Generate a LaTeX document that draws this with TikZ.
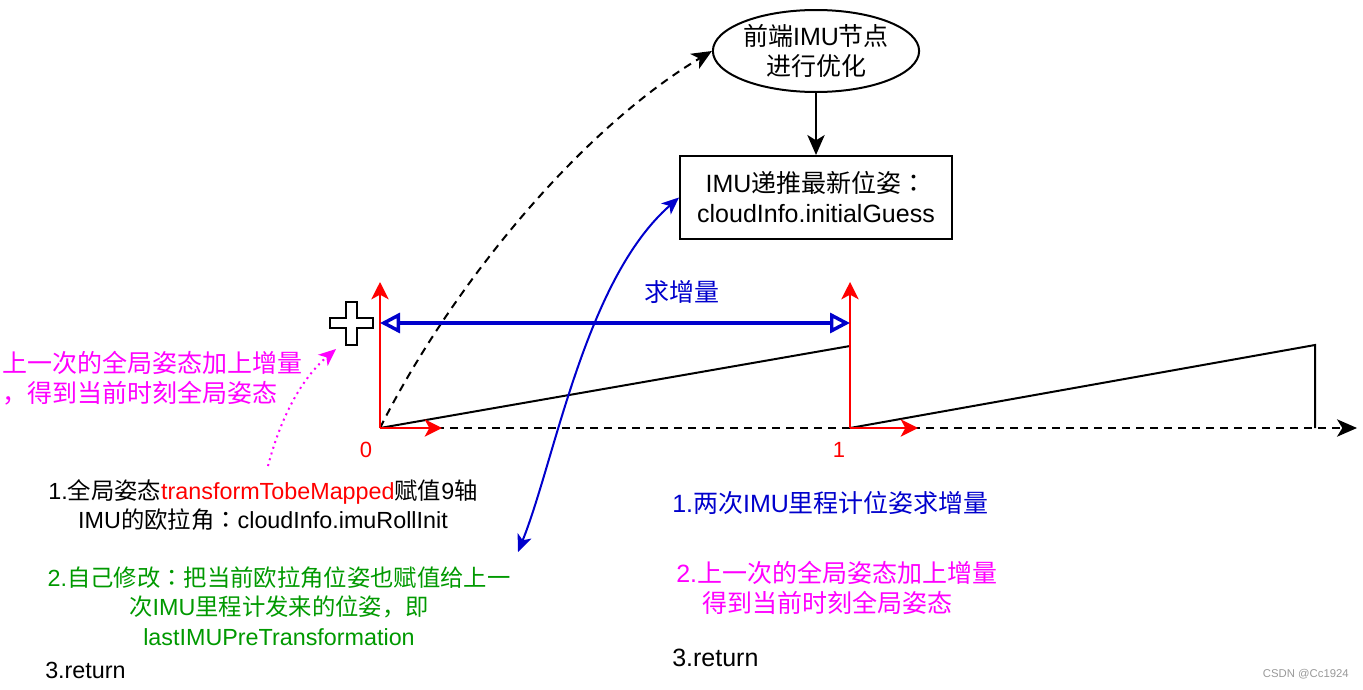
\documentclass[tikz,border=0pt]{standalone}
\usepackage{fontspec}
\setmainfont{Liberation Sans}
\newfontfamily\cjk{Noto Sans CJK SC}
\newfontfamily\cjktc{Noto Sans CJK TC}
\newcommand\zh[1]{{\cjk #1}}
\newcommand\zhcolon{{\cjktc ：}}
\usetikzlibrary{arrows.meta,shapes.geometric}
\definecolor{myblue}{HTML}{0000CC}
\definecolor{mymag}{HTML}{FF00FF}
\definecolor{mygreen}{HTML}{009900}
\begin{document}
\begin{tikzpicture}[x=0.75pt,y=-0.75pt,
  txt/.style={align=center, inner sep=0pt, font=\fontsize{18.75}{22.5}\selectfont},
  txts/.style={align=center, inner sep=0pt, font=\fontsize{17.5}{22}\selectfont},
  redarr/.style={draw=red, line width=1.5pt, -{Stealth[length=13pt,width=13pt,inset=3.5pt]}},
  blk/.style={draw=black, line width=1.5pt},
  blktip/.style={-{Stealth[length=15pt,width=13pt,inset=4pt]}},
  dashaxis/.style={draw=black, line width=1.5pt, dash pattern=on 6pt off 4.5pt},
  bluetip/.tip={Stealth[length=13pt,width=11pt,inset=3.5pt]},
  opentri/.tip={Triangle[open,length=15pt,width=15pt,line width=2.6pt]}
]
\useasboundingbox (0,0) rectangle (1363,689);

% top nodes
\node[ellipse, blk, minimum width=154.5pt, minimum height=61.5pt, txt] (e) at (816,51)
  {\zh{前端}IMU\zh{节点}\\\zh{进行优化}};
\node[blk, minimum width=204pt, minimum height=62.25pt, txt] (b) at (816,197.5)
  {IMU\zh{递推最新位姿}\zhcolon\\cloudInfo.initialGuess};
\draw[blk, blktip] (e.south) -- (b.north);

% coordinates
\coordinate (o0) at (380,428);
\coordinate (o1) at (850,428);
\coordinate (axend) at (1357,428);
\coordinate (p1) at (850,346);
\coordinate (p2) at (1315,345);
\coordinate (p2b) at (1315,428);
\coordinate (y0) at (380,282);
\coordinate (x0) at (442,428);
\coordinate (y1) at (850,282);
\coordinate (x1) at (918,428);
\coordinate (bl) at (380,323);
\coordinate (br) at (850,323);

% axis
\draw[dashaxis, blktip] (o0) -- (axend);
\draw[blk] (o0) -- (p1);
\draw[blk] (o1) -- (p2) -- (p2b);

% dashed curve to ellipse
\draw[dashaxis, blktip] (o0) .. controls (452,285) and (580,130) .. (e.west);

% red frames
\draw[redarr] (o0) -- (y0);
\draw[redarr] (o0) -- (x0);
\draw[redarr] (o1) -- (y1);
\draw[redarr] (o1) -- (x1);

% blue increment arrow
\draw[draw=myblue, line width=3pt, {opentri}-{opentri}, myblue] (bl) -- (br);
\node[txt, text=myblue] (inc) at (682,292) {\zh{求增量}};

% plus
\draw[blk, fill=white] (346,302) -- (357,302) -- (357,318) -- (373,318) -- (373,328) -- (357,328)
  -- (357,345) -- (346,345) -- (346,328) -- (330,328) -- (330,318) -- (346,318) -- cycle;

% blue curved arrow
\coordinate (bb) at (518,552);
\draw[draw=myblue, line width=1.5pt, {bluetip}-{bluetip}, myblue] (bb) .. controls (555,460) and (585,280) .. (b.west);

% magenta dotted arrow
\coordinate (ms) at (268,466);
\coordinate (me) at (336,349);
\draw[draw=mymag, line width=1.5pt, dash pattern=on 1.5pt off 3pt, -{Stealth[length=13pt,width=11pt,inset=3.5pt]}, mymag]
  (ms) .. controls (280,420) and (300,380) .. (me);

% labels 0 and 1
\node[inner sep=0pt, font=\fontsize{16.5}{18}\selectfont, text=red] (l0) at (366,450) {0};
\node[inner sep=0pt, font=\fontsize{16.5}{18}\selectfont, text=red] (l1) at (839,450) {1};

% left magenta text
\node[txt, text=mymag, align=left, anchor=west] (lm) at (2,378)
  {\zh{上一次的全局姿态加上增量}\\\zh{，得到当前时刻全局姿态}};

% left block
\node[txts] (t1) at (263,505)
  {1.\zh{全局姿态}\textcolor{red}{transformTobeMapped}\zh{赋值}9\zh{轴}\\IMU\zh{的欧拉角}\zhcolon cloudInfo.imuRollInit};
\node[txts, text=mygreen] (t2) at (279,606)
  {2.\zh{自己修改}\zhcolon\zh{把当前欧拉角位姿也赋值给上一}\\\zh{次}IMU\zh{里程计发来的位姿，即}\\lastIMUPreTransformation};
\node[txts, anchor=west] (t3) at (45,670) {3.return};

% right block
\node[txt, text=myblue, anchor=west] (r1) at (672,503) {1.\zh{两次}IMU\zh{里程计位姿求增量}};
\node[txt, text=mymag, align=left, anchor=west] (r2) at (676,588)
  {2.\zh{上一次的全局姿态加上增量}\\\hspace*{19.5pt}\zh{得到当前时刻全局姿态}};
\node[txt, anchor=west] (r3) at (672,658) {3.return};

% watermark
\node[inner sep=0pt, font=\fontsize{8.5}{10}\selectfont, text=black!40, anchor=east] (wm) at (1349,674) {CSDN @Cc1924};
\end{tikzpicture}
\end{document}
